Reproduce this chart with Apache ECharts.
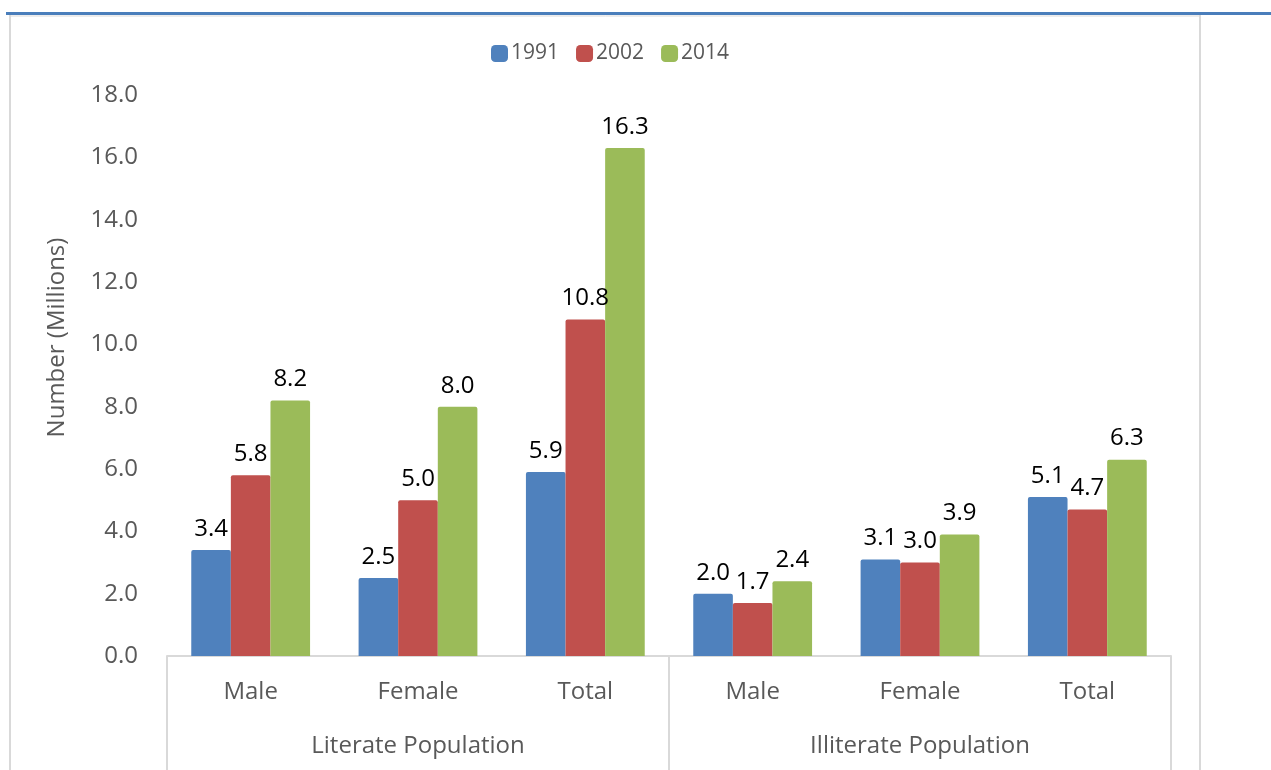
<!DOCTYPE html>
<html>
<head>
<meta charset="utf-8">
<script src="https://cdn.jsdelivr.net/npm/echarts@6/dist/echarts.min.js"></script>
<style>
  html, body { margin: 0; padding: 0; background: #fff; }
  #main { width: 1271px; height: 770px; }
</style>
</head>
<body>
<div id="main"></div>
<script>
// data
var categories = ['Male', 'Female', 'Total', 'Male', 'Female', 'Total'];
var groups = ['Literate Population', 'Illiterate Population'];
var years = ['1991', '2002', '2014'];
var values1991 = [3.4, 2.5, 5.9, 2.0, 3.1, 5.1];
var values2002 = [5.8, 5.0, 10.8, 1.7, 3.0, 4.7];
var values2014 = [8.2, 8.0, 16.3, 2.4, 3.9, 6.3];
var colors = ['#4F81BD', '#C0504D', '#9BBB59'];

var font = '"Open Sans", sans-serif';
var gray = '#595959';
var lineGray = '#d9d9d9';

function makeSeries(name, data, color) {
  return {
    name: name,
    type: 'bar',
    data: data,
    barGap: '0%',
    barCategoryGap: '29%',
    itemStyle: { color: color, borderRadius: [2, 2, 0, 0] },
    label: {
      show: true,
      position: 'top',
      distance: 9,
      color: '#000',
      fontSize: 24,
      fontFamily: font,
      formatter: function (p) { return p.value.toFixed(1); }
    }
  };
}

var myChart = echarts.init(document.getElementById('main'));
myChart.setOption({
  animation: false,
  textStyle: { fontFamily: font },
  legend: {
    data: years,
    left: 486,
    top: 38,
    itemWidth: 17,
    itemHeight: 17,
    itemGap: 17,
    icon: 'roundRect',
    textStyle: { color: gray, fontSize: 21, fontFamily: font, padding: [0, 0, 0, -2] }
  },
  grid: { left: 167, right: 100, top: 95, bottom: 114, containLabel: false },
  xAxis: [
    {
      type: 'category',
      data: categories,
      position: 'bottom',
      axisLine: { show: true, lineStyle: { color: lineGray, width: 2 } },
      axisTick: { show: false },
      axisLabel: { color: gray, fontSize: 24, fontFamily: font, margin: 24, interval: 0 }
    },
    {
      type: 'category',
      data: groups,
      position: 'bottom',
      axisLine: { show: false },
      axisTick: { show: true, length: 116, lineStyle: { color: lineGray, width: 2 } },
      axisLabel: { color: gray, fontSize: 24, fontFamily: font, margin: 78, interval: 0 }
    }
  ],
  yAxis: {
    type: 'value',
    min: 0,
    max: 18,
    interval: 2,
    name: 'Number (Millions)',
    nameLocation: 'middle',
    nameGap: 98,
    nameTextStyle: { color: gray, fontSize: 24, fontFamily: font, padding: [0, 0, 0, 76] },
    axisLine: { show: false },
    axisTick: { show: false },
    splitLine: { show: false },
    axisLabel: {
      color: gray,
      fontSize: 24,
      fontFamily: font,
      margin: 29,
      formatter: function (v) { return v.toFixed(1); }
    }
  },
  series: [
    makeSeries(years[0], values1991, colors[0]),
    makeSeries(years[1], values2002, colors[1]),
    makeSeries(years[2], values2014, colors[2])
  ],
  graphic: [
    { type: 'line', shape: { x1: 10, y1: 16, x2: 1201, y2: 16 }, style: { stroke: lineGray, lineWidth: 1 } },
    { type: 'line', shape: { x1: 10, y1: 15, x2: 10, y2: 770 }, style: { stroke: lineGray, lineWidth: 2 } },
    { type: 'line', shape: { x1: 1200, y1: 15, x2: 1200, y2: 770 }, style: { stroke: lineGray, lineWidth: 2 } },
    { type: 'line', shape: { x1: 6, y1: 13.5, x2: 1271, y2: 13.5 }, style: { stroke: '#4A7EBB', lineWidth: 3 } }
  ]
});
</script>
</body>
</html>
